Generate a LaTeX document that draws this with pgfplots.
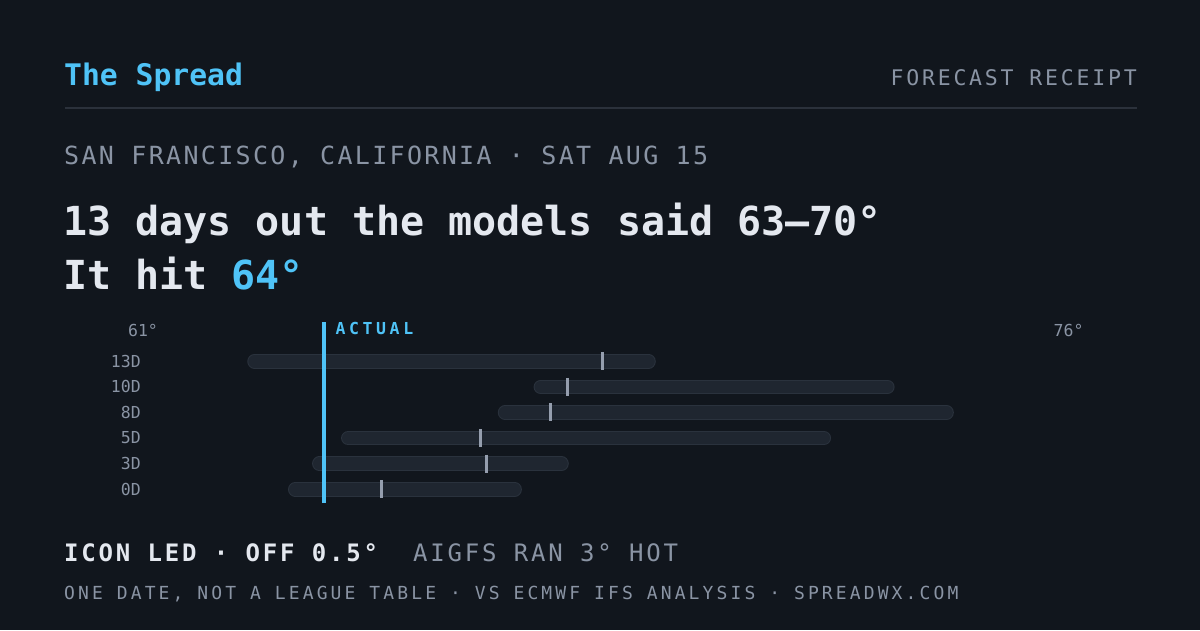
\documentclass[border=0pt]{standalone}
\usepackage{fontspec}
\usepackage{pgfplots}
\pgfplotsset{compat=1.18}
\setmainfont{DejaVu Sans Mono}
\newfontfamily\lsA[LetterSpace=13]{DejaVu Sans Mono}
\newfontfamily\lsB[LetterSpace=9.3]{DejaVu Sans Mono}
\newfontfamily\lsC[LetterSpace=22]{DejaVu Sans Mono}
\newfontfamily\lsD[LetterSpace=11.7]{DejaVu Sans Mono}
\newfontfamily\lsE[LetterSpace=17.3]{DejaVu Sans Mono}
\definecolor{bg}{HTML}{11161D}
\definecolor{accent}{HTML}{4FC3F7}
\definecolor{txtw}{HTML}{E4E8EF}
\definecolor{txtg}{HTML}{8A94A4}
\definecolor{rulec}{HTML}{2B313B}
\definecolor{barfill}{HTML}{1F2630}
\definecolor{barline}{HTML}{2A323D}
\definecolor{medc}{HTML}{959EAE}
\pgfplotsset{
  barO/.style={draw=barline, line width=14.5pt, line cap=round, shorten <=7.25pt, shorten >=7.25pt, mark=none},
  barI/.style={draw=barfill, line width=12.5pt, line cap=round, shorten <=7.25pt, shorten >=7.25pt, mark=none},
}
\newcommand\rangebar[3]{%
  \addplot[barO] coordinates {(#1,#3) (#2,#3)};
  \addplot[barI] coordinates {(#1,#3) (#2,#3)};
}
\begin{document}
\begin{tikzpicture}[x=1pt,y=1pt]
\fill[bg] (0,0) rectangle (1200,630);
\useasboundingbox (0,0) rectangle (1200,630);
% header
\node[anchor=base west, inner sep=0, text=accent, font=\bfseries\fontsize{29.7}{32}\selectfont] at (64,544.3) {The Spread};
\node[anchor=base east, inner sep=0, text=txtg, font=\lsA\fontsize{21.5}{24}\selectfont] at (1137,544.3) {FORECAST RECEIPT};
\draw[rulec, line width=2pt] (65,521.7) -- (1137,521.7);
% subtitle
\node[anchor=base west, inner sep=0, text=txtg, font=\lsB\fontsize{25}{28}\selectfont] at (64,465.3) {SAN FRANCISCO, CALIFORNIA · SAT AUG 15};
% headline
\node[anchor=base west, inner sep=0, text=txtw, font=\bfseries\fontsize{40}{44}\selectfont] at (63,394) {13 days out the models said 63–70°};
\node[anchor=base west, inner sep=0, text=txtw, font=\bfseries\fontsize{40}{44}\selectfont] at (63,340) {It hit \textcolor{accent}{64°}};
% chart
\begin{axis}[
  at={(143pt,127pt)}, anchor=south west,
  scale only axis, width=925.6pt, height=181pt,
  xmin=61, xmax=76, ymin=-0.535, ymax=6.535,
  axis line style={draw=none}, tick style={draw=none}, major tick length=0pt,
  xtick=\empty, ytick={0,1,2,3,4,5},
  yticklabels={0D,3D,5D,8D,10D,13D},
  yticklabel style={font=\fontsize{16.5}{18}\selectfont, text=txtg, anchor=east, inner sep=0pt, xshift=-2pt},
  clip=false,
]
\rangebar{62.69}{69.31}{5}
\rangebar{67.33}{73.18}{4}
\rangebar{66.75}{74.14}{3}
\rangebar{64.21}{72.15}{2}
\rangebar{63.74}{67.90}{1}
\rangebar{63.35}{67.14}{0}
\addplot[only marks, mark=|, mark size=9pt, mark options={line width=3pt, draw=medc}] coordinates {
 (68.44,5) (67.88,4) (67.60,3) (66.47,2) (66.56,1) (64.86,0)};
\addplot[accent, line width=4pt, mark=none] coordinates {(63.93,-0.535) (63.93,6.535)};
\node[anchor=base west, inner sep=0, text=accent, font=\lsC\bfseries\fontsize{16.5}{18}\selectfont, xshift=11.5pt] at (axis cs:63.93,6.04) {ACTUAL};
\node[anchor=base, inner sep=0, text=txtg, font=\fontsize{16.5}{18}\selectfont] at (axis cs:61,5.96) {61°};
\node[anchor=base, inner sep=0, text=txtg, font=\fontsize{16.5}{18}\selectfont] at (axis cs:76,5.96) {76°};
\end{axis}
% footer
\node[anchor=base west, inner sep=0, text=txtw, font=\lsD\bfseries\fontsize{24}{26}\selectfont] at (64,68.7) {ICON LED · OFF 0.5°};
\node[anchor=base west, inner sep=0, text=txtg, font=\lsD\fontsize{24}{26}\selectfont] at (413,68.7) {AIGFS RAN 3° HOT};
\node[anchor=base west, inner sep=0, text=txtg, font=\lsE\fontsize{18}{20}\selectfont] at (64,30.7) {ONE DATE, NOT A LEAGUE TABLE · VS ECMWF IFS ANALYSIS · SPREADWX.COM};
\end{tikzpicture}
\end{document}
